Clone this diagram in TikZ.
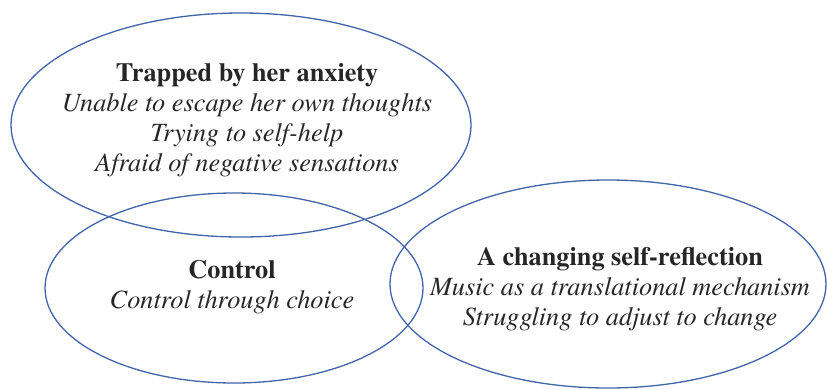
\documentclass[tikz,border=0pt]{standalone}
\usepackage{fontspec}
\setmainfont{texgyretermes}[Extension=.otf, UprightFont=*-regular, BoldFont=*-bold, ItalicFont=*-italic, BoldItalicFont=*-bolditalic]
\usetikzlibrary{shapes.geometric}
\definecolor{ringblue}{RGB}{66,100,168}

\begin{document}
\begin{tikzpicture}[x=1pt, y=-1pt,
    theme/.style={draw=ringblue, line width=1.3pt, ellipse, inner sep=0pt},
    label/.style={align=center, font=\fontsize{26.3}{30}\selectfont, text=black!85}]
        \useasboundingbox (0,0) rectangle (827,389);

        % the three themes
        \node[theme, minimum width=460, minimum height=224] (anx) at (241,125) {};
        \node[theme, minimum width=378, minimum height=190] (ctl) at (234,288) {};
        \node[theme, minimum width=436, minimum height=208] (ref) at (608,284) {};

        % texts
        \node[label] (anxt) at (247,120) {\textbf{Trapped by her anxiety}\\ \textit{Unable to escape her own thoughts}\\ \textit{Trying to self-help}\\ \textit{Afraid of negative sensations}};
        \node[label] (ctlt) at (232,287) {\textbf{Control}\\ \textit{Control through choice}};
        \node[label] (reft) at (620,289) {\textbf{A changing self-reflection}\\ \textit{Music as a translational mechanism}\\ \textit{Struggling to adjust to change}};

    \end{tikzpicture}
\end{document}
